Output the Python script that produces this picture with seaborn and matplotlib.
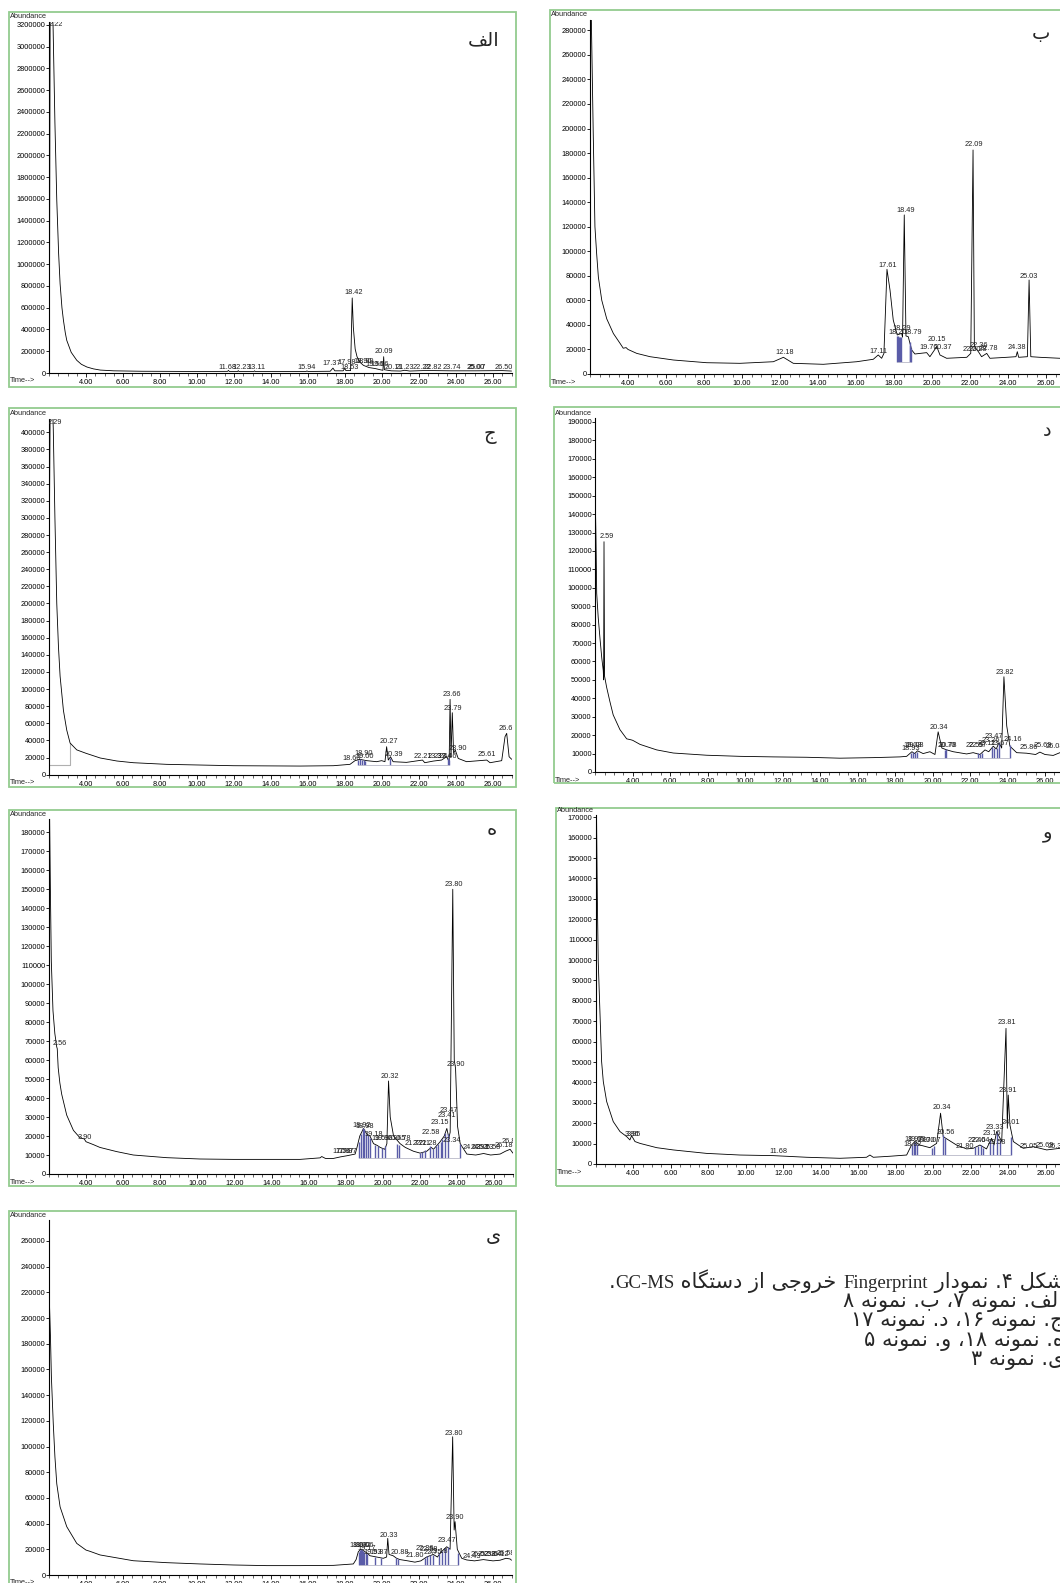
import re
import numpy as np
import pandas as pd
import matplotlib
matplotlib.use("Agg")
from matplotlib import pyplot as plt
from matplotlib.patches import Rectangle
from matplotlib.ticker import MultipleLocator
import seaborn as sns

# ---- chromatogram traces: (time [min], abundance) ----
alef_trace = [
    (2.02, 40000), (2.06, 3300000), (2.18, 3300000), (2.22, 3190000), (2.32, 2300000),
    (2.42, 1590000), (2.52, 1100000), (2.60, 820000), (2.70, 600000), (2.78, 485000),
    (2.88, 370000), (2.96, 300000), (3.2, 190000), (3.5, 117000), (3.75, 80000),
    (4.05, 55000), (4.4, 38000), (4.77, 27000), (5.5, 20000), (7.0, 16000),
    (10.0, 14000), (11.65, 15000), (11.7, 24000), (11.75, 14000), (12.2, 14000),
    (12.23, 22000), (12.27, 14000), (13.08, 14000), (13.11, 20000), (13.15, 14000),
    (15.9, 14000), (15.94, 19000), (16.0, 14000), (17.2, 16000), (17.35, 45000),
    (17.45, 20000), (17.9, 20000), (17.98, 42000), (18.05, 22000), (18.3, 22000),
    (18.39, 690000), (18.45, 420000), (18.55, 220000), (18.65, 150000), (18.8, 100000),
    (19.0, 70000), (19.3, 50000), (19.66, 40000), (19.9, 30000), (20.05, 25000),
    (20.09, 150000), (20.13, 30000), (20.5, 20000), (21.0, 18000), (21.23, 25000),
    (21.5, 18000), (22.22, 22000), (22.82, 22000), (23.74, 20000), (25.07, 20000),
    (26.5, 22000), (27.0, 18000),
]
be_trace = [
    (2.07, 290000), (2.17, 196000), (2.26, 120000), (2.35, 98000), (2.44, 79000),
    (2.62, 60000), (2.88, 45000), (3.23, 33000), (3.58, 25000), (3.75, 21000),
    (3.9, 21500), (4.0, 20000), (4.46, 16800), (5.16, 14100), (6.39, 11400),
    (8.14, 9200), (9.89, 8700), (11.65, 10000), (12.18, 13600), (12.7, 8700),
    (14.28, 7900), (16.04, 10000), (16.91, 12000), (17.17, 15500), (17.35, 12800),
    (17.47, 16800), (17.63, 85300), (17.79, 68400), (17.96, 44000), (18.17, 31800),
    (18.40, 33100), (18.45, 30000), (18.54, 129600), (18.63, 31000), (18.75, 30400),
    (18.93, 19600), (19.1, 16300), (19.72, 17400), (19.89, 14100), (20.25, 22300),
    (20.42, 15500), (20.77, 12800), (21.83, 13600), (22.04, 16800), (22.16, 182500),
    (22.23, 22300), (22.44, 18200), (22.61, 14100), (22.88, 16800), (23.05, 12800),
    (23.93, 13600), (24.42, 14100), (24.49, 18200), (24.56, 13600), (25.02, 14100),
    (25.11, 76600), (25.2, 14100), (25.68, 13600), (26.74, 12800), (27.1, 12800),
]
jim_trace = [
    (2.0, 12000), (2.02, 282000), (2.06, 425000), (2.2, 425000), (2.23, 405000),
    (2.32, 300000), (2.42, 200000), (2.51, 150000), (2.6, 115000), (2.78, 75000),
    (2.96, 52000), (3.14, 37000), (3.5, 29000), (4.0, 25000), (4.77, 19500),
    (5.67, 16000), (6.56, 14000), (8.36, 12100), (11.97, 10500), (15.57, 10100),
    (17.37, 10500), (18.27, 12100), (18.54, 16400), (18.81, 17900), (19.17, 16400),
    (19.71, 15200), (19.98, 16400), (20.16, 15200), (20.25, 32700), (20.34, 17100),
    (20.46, 21000), (20.6, 15200), (21.32, 14400), (22.19, 17100), (22.31, 14000),
    (22.77, 15900), (23.22, 17100), (23.49, 21000), (23.63, 15200), (23.68, 88000),
    (23.73, 21000), (23.8, 72400), (23.87, 25000), (23.96, 28800), (24.12, 19000),
    (24.57, 15200), (25.66, 17100), (25.84, 14000), (26.47, 16400), (26.65, 44400),
    (26.74, 48300), (26.87, 21000), (27.01, 18000),
]
dal_trace = [
    (1.97, 191000), (2.0, 150000), (2.04, 128000), (2.08, 97000), (2.16, 84000),
    (2.26, 72000), (2.35, 62000), (2.43, 55000), (2.45, 50000), (2.47, 125000),
    (2.50, 52000), (2.61, 46000), (2.79, 38000), (2.96, 31000), (3.32, 23000),
    (3.68, 18000), (3.9, 17500), (4.0, 17200), (4.39, 15000), (5.28, 12000),
    (6.17, 10300), (7.95, 9100), (9.73, 8500), (11.5, 8200), (13.28, 8000),
    (15.06, 7500), (16.84, 7800), (18.26, 8200), (18.62, 8500), (18.9, 11000),
    (19.05, 10000), (19.2, 11500), (19.5, 10000), (19.86, 11000), (20.13, 9500),
    (20.3, 21800), (20.5, 13000), (20.76, 12000), (21.11, 11000), (21.82, 9800),
    (22.17, 10500), (22.53, 9500), (22.8, 12000), (23.0, 11000), (23.24, 14000),
    (23.4, 12500), (23.55, 16000), (23.69, 13000), (23.81, 51700), (23.96, 25000),
    (24.13, 14000), (24.49, 10500), (25.02, 10200), (25.5, 9500), (25.73, 10800),
    (26.0, 9500), (26.44, 9000), (26.8, 10500), (27.0, 9500),
]
he_trace = [
    (2.04, 187000), (2.08, 150000), (2.13, 112000), (2.22, 86000), (2.32, 74000),
    (2.42, 67000), (2.45, 66000), (2.5, 56000), (2.59, 48000), (2.69, 42000),
    (2.96, 31000), (3.32, 23000), (3.68, 19000), (3.9, 18500), (4.0, 17000),
    (4.39, 15500), (4.75, 14000), (5.65, 11800), (6.55, 10000), (8.35, 8600),
    (10.14, 7900), (11.94, 7700), (13.73, 7700), (15.53, 7700), (16.61, 8500),
    (16.7, 9200), (16.9, 8200), (17.33, 8200), (17.7, 9000), (18.05, 9600),
    (18.5, 10500), (18.6, 14000), (18.75, 20000), (18.95, 24000), (19.13, 21000),
    (19.3, 20000), (19.49, 16000), (19.7, 15000), (19.85, 14000), (20.1, 13000),
    (20.21, 16000), (20.3, 49000), (20.39, 30000), (20.57, 20000), (20.92, 16000),
    (21.2, 14000), (21.64, 12000), (22.0, 11000), (22.36, 12000), (22.6, 14000),
    (22.72, 13000), (22.9, 15000), (23.08, 17000), (23.3, 20000), (23.44, 24000),
    (23.55, 19000), (23.62, 22000), (23.76, 150000), (23.84, 60000), (23.91, 55700),
    (24.02, 25000), (24.16, 16000), (24.52, 10500), (25.0, 10000), (25.42, 10800),
    (25.8, 10000), (26.31, 10500), (26.6, 12000), (26.85, 13000), (27.0, 11000),
]
vav_trace = [
    (2.04, 170000), (2.08, 131900), (2.13, 99200), (2.22, 74700), (2.31, 50200),
    (2.40, 40400), (2.58, 30600), (2.93, 20800), (3.29, 15900), (3.65, 13400),
    (3.82, 11800), (3.91, 13900), (4.09, 11000), (4.36, 10100), (5.25, 8000),
    (6.13, 6900), (7.91, 5200), (9.69, 4400), (11.47, 4100), (13.25, 3300),
    (15.02, 2800), (16.44, 3300), (16.62, 4400), (16.8, 3300), (17.69, 3800),
    (18.58, 4400), (18.84, 9300), (19.02, 11000), (19.29, 9300), (19.82, 8000),
    (20.18, 10100), (20.39, 24900), (20.53, 13400), (20.67, 12600), (21.24, 9300),
    (21.78, 7400), (22.13, 7700), (22.49, 9300), (22.84, 7400), (23.11, 12600),
    (23.24, 9300), (23.38, 15900), (23.65, 11000), (23.88, 66500), (23.95, 17500),
    (24.0, 33800), (24.09, 19100), (24.27, 11000), (24.8, 7700), (25.34, 8500),
    (26.05, 6900), (26.76, 7700), (27.1, 7200),
]
ye_trace = [
    (2.0, 276000), (2.03, 209000), (2.08, 185000), (2.13, 154000), (2.23, 118000),
    (2.32, 92000), (2.42, 71000), (2.6, 53000), (2.96, 37600), (3.5, 24600),
    (4.0, 19400), (4.2, 18500), (4.76, 15600), (6.56, 11100), (8.36, 9600),
    (10.16, 8600), (11.96, 7800), (13.77, 7300), (15.57, 7300), (17.37, 7500),
    (18.45, 8600), (18.6, 12000), (18.72, 18100), (18.85, 20000), (18.99, 19000),
    (19.2, 17000), (19.35, 15000), (19.71, 14000), (20.07, 13000), (20.25, 14000),
    (20.31, 28500), (20.38, 16000), (20.6, 15000), (20.79, 13000), (20.97, 12000),
    (21.4, 11000), (21.78, 10000), (22.1, 11000), (22.41, 14000), (22.77, 16000),
    (23.0, 14000), (23.14, 17000), (23.35, 20000), (23.5, 22000), (23.68, 20000),
    (23.82, 107600), (23.9, 35000), (23.95, 41500), (24.07, 20000), (24.31, 13000),
    (24.58, 11700), (25.0, 11000), (25.48, 12000), (26.0, 11000), (26.38, 11500),
    (26.7, 13000), (26.92, 12500), (27.0, 11500),
]

# ---- retention-time annotations: (time, abundance, text) ----
alef_labels = [
    (2.35, 3200000, "2.22"), (18.45, 737000, "18.42"), (20.11, 200000, "20.09"),
    (11.62, 49000, "11.68"), (12.40, 49000, "12.23"), (13.22, 49000, "13.11"),
    (15.93, 49000, "15.94"), (17.28, 86000, "17.37"), (18.08, 95000, "17.98"),
    (18.27, 55000, "18.53"), (18.95, 107000, "18.90"), (19.05, 107000, "18.99"),
    (19.62, 77000, "19.56"), (19.85, 77000, "19.66"), (20.62, 55000, "20.11"),
    (21.24, 55000, "21.23"), (22.15, 55000, "22.22"), (22.77, 55000, "22.82"),
    (23.77, 55000, "23.74"), (25.08, 55000, "25.00"), (25.14, 55000, "25.07"),
    (26.56, 55000, "26.50"),
]
be_labels = [
    (12.26, 17900, "12.18"), (17.17, 18200, "17.11"), (17.67, 88300, "17.61"),
    (18.61, 133100, "18.49"), (18.17, 33700, "18.20"), (18.40, 37200, "18.29"),
    (19.0, 33700, "18.79"), (19.80, 21700, "19.76"), (20.25, 27700, "20.15"),
    (20.57, 21200, "20.37"), (22.21, 186600, "22.09"), (22.09, 20100, "22.00"),
    (22.39, 20100, "22.28"), (22.44, 23600, "22.36"), (22.97, 20900, "22.78"),
    (24.49, 21500, "24.38"), (25.12, 79300, "25.03"),
]
jim_labels = [
    (2.30, 411700, "2.29"), (18.36, 19100, "18.60"), (18.99, 24900, "18.90"),
    (19.08, 21000, "19.00"), (20.35, 38600, "20.27"), (20.62, 24100, "20.39"),
    (22.23, 21000, "22.21"), (22.95, 21000, "23.37"), (23.31, 21000, "23.44"),
    (23.58, 21000, "23.46"), (23.76, 93500, "23.66"), (23.85, 77500, "23.79"),
    (24.12, 30800, "23.90"), (25.69, 24100, "25.61"), (26.70, 54100, "26.6"),
]
dal_labels = [
    (2.61, 127800, "2.59"), (18.85, 12700, "18.93"), (18.94, 14500, "19.03"),
    (19.07, 14500, "19.08"), (20.36, 24100, "20.34"), (20.74, 14500, "20.70"),
    (20.82, 14500, "20.78"), (22.25, 14500, "22.55"), (22.40, 14500, "22.57"),
    (22.89, 15400, "23.11"), (23.10, 17200, "23.26"), (23.28, 19000, "23.47"),
    (23.60, 15400, "23.67"), (23.87, 54000, "23.82"), (24.27, 17600, "24.16"),
    (25.16, 13200, "25.86"), (25.91, 14500, "25.69"), (26.53, 13600, "26.08"),
]
he_labels = [
    (2.59, 68800, "2.56"), (3.95, 19300, "3.90"), (17.75, 11800, "17.56"),
    (17.96, 11800, "17.87"), (18.10, 11800, "17.97"), (18.86, 25300, "18.92"),
    (19.02, 24900, "18.98"), (19.49, 20900, "19.18"), (19.85, 18800, "19.59"),
    (20.05, 18800, "19.96"), (20.35, 51600, "20.32"), (20.75, 18800, "20.65"),
    (21.00, 18800, "20.78"), (21.64, 16200, "21.77"), (22.10, 16200, "22.11"),
    (22.40, 16200, "22.28"), (22.60, 21800, "22.58"), (23.06, 27200, "23.15"),
    (23.44, 30600, "23.41"), (23.53, 33700, "23.47"), (23.71, 17600, "23.34"),
    (23.84, 152400, "23.80"), (23.95, 57800, "23.90"), (24.80, 14000, "24.63"),
    (25.20, 14000, "24.93"), (25.50, 14000, "25.23"), (25.85, 14000, "25.58"),
    (26.50, 15000, "26.18"), (26.76, 17000, "26.8"),
]
vav_labels = [
    (3.95, 14500, "3.86"), (4.02, 14500, "3.95"), (11.73, 6000, "11.68"),
    (18.88, 9500, "18.82"), (18.97, 12100, "18.97"), (19.09, 12100, "19.09"),
    (19.60, 11400, "19.70"), (19.91, 11400, "20.07"), (20.44, 27600, "20.34"),
    (20.67, 15500, "20.56"), (21.69, 8800, "21.80"), (22.31, 11400, "22.40"),
    (22.55, 11400, "22.64"), (23.11, 15000, "23.16"), (23.29, 18100, "23.33"),
    (23.38, 10600, "23.58"), (23.92, 69300, "23.81"), (24.00, 36100, "23.91"),
    (24.13, 20400, "24.01"), (25.07, 8800, "25.05"), (25.96, 9300, "25.69"),
    (26.58, 8500, "26.38"),
]
ye_labels = [
    (18.72, 23300, "18.68"), (18.90, 23300, "18.92"), (19.06, 23300, "19.06"),
    (19.17, 20700, "19.17"), (19.50, 17600, "19.53"), (19.80, 17600, "19.87"),
    (20.38, 31100, "20.33"), (20.97, 17600, "20.88"), (21.78, 15000, "21.80"),
    (22.30, 20700, "22.36"), (22.55, 19500, "22.58"), (22.75, 17600, "22.75"),
    (23.10, 18500, "23.18"), (23.50, 26700, "23.47"), (23.86, 110200, "23.80"),
    (23.95, 44800, "23.90"), (24.85, 14300, "24.43"), (25.30, 16000, "25.02"),
    (25.65, 16000, "25.38"), (26.00, 16000, "25.64"), (26.35, 16000, "26.12"),
    (26.70, 17000, "26.58"),
]

# ---- integration marks: (time, top abundance); base per panel ----
be_marks = [(18.15, 31000), (18.2, 31000), (18.25, 30500), (18.3, 30500), (18.35, 30000),
            (18.82, 26000), (18.86, 24000), (18.9, 21000)]
jim_marks = [(18.7, 17000), (18.8, 18000), (18.9, 17500), (19.0, 17000), (19.1, 16000),
             (20.42, 19000), (23.55, 19000), (23.6, 17000)]
dal_marks = [(18.85, 10500), (18.95, 11000), (19.05, 10500), (19.15, 11000), (20.65, 12000),
             (20.72, 12500), (22.45, 10500), (22.55, 10000), (22.65, 10500), (23.2, 13500),
             (23.3, 13000), (23.45, 13000), (23.55, 15500), (24.15, 14500)]
he_marks = [(18.7, 17000), (18.8, 21000), (18.9, 24000), (19.0, 23500), (19.1, 21000),
            (19.2, 20500), (19.3, 19000), (19.55, 15500), (19.75, 14500), (19.95, 13500),
            (20.1, 14500), (20.75, 16000), (20.85, 15500), (22.0, 11000), (22.1, 11500),
            (22.25, 12500), (22.55, 14500), (22.7, 13000), (22.85, 14500), (22.95, 16000),
            (23.1, 17000), (23.2, 18500), (23.35, 21500), (23.5, 21000), (24.15, 16000)]
vav_marks = [(18.85, 9300), (18.95, 10500), (19.05, 11000), (19.15, 10000), (19.95, 8000),
             (20.05, 9000), (20.5, 14000), (20.65, 12600), (22.2, 8500), (22.4, 9000),
             (22.55, 9300), (22.65, 8000), (23.05, 12000), (23.2, 10000), (23.4, 15500),
             (23.55, 12000), (24.15, 13000)]
ye_marks = [(18.75, 18100), (18.8, 19500), (18.85, 20000), (18.9, 19500), (18.95, 19000),
            (19.05, 18000), (19.12, 17000), (19.2, 16500), (19.6, 14000), (19.95, 13000),
            (20.75, 13000), (20.85, 12500), (22.35, 13500), (22.45, 14500), (22.6, 15500),
            (22.75, 15500), (23.1, 17000), (23.25, 19000), (23.4, 21000), (23.55, 22000),
            (24.1, 17000)]
# light grey integration box under the solvent peak of panel ج
jim_box = [(2.0, 11700), (3.14, 11700), (3.14, 37000)]

panel_letters = ["الف", "ب", "ج", "د", "ه", "و", "ی"]
caption_lines = [
    "شکل ۴. نمودار Fingerprint خروجی از دستگاه GC-MS.",
    "الف. نمونه ۷، ب. نمونه ۸",
    "ج. نمونه ۱۶، د. نمونه ۱۷",
    "ه. نمونه ۱۸، و. نمونه ۵",
    "ی. نمونه ۳",
]

# ---- minimal Persian shaping + right-to-left ordering for matplotlib ----
FORMS = {  # isolated, final, initial, medial
    "ا": ("\uFE8D", "\uFE8E", None, None), "ب": ("\uFE8F", "\uFE90", "\uFE91", "\uFE92"),
    "ت": ("\uFE95", "\uFE96", "\uFE97", "\uFE98"), "ج": ("\uFE9D", "\uFE9E", "\uFE9F", "\uFEA0"),
    "خ": ("\uFEA5", "\uFEA6", "\uFEA7", "\uFEA8"), "د": ("\uFEA9", "\uFEAA", None, None),
    "ر": ("\uFEAD", "\uFEAE", None, None), "ز": ("\uFEAF", "\uFEB0", None, None),
    "س": ("\uFEB1", "\uFEB2", "\uFEB3", "\uFEB4"), "ش": ("\uFEB5", "\uFEB6", "\uFEB7", "\uFEB8"),
    "ف": ("\uFED1", "\uFED2", "\uFED3", "\uFED4"), "ل": ("\uFEDD", "\uFEDE", "\uFEDF", "\uFEE0"),
    "م": ("\uFEE1", "\uFEE2", "\uFEE3", "\uFEE4"), "ن": ("\uFEE5", "\uFEE6", "\uFEE7", "\uFEE8"),
    "ه": ("\uFEE9", "\uFEEA", "\uFEEB", "\uFEEC"), "و": ("\uFEED", "\uFEEE", None, None),
    "ک": ("\uFB8E", "\uFB8F", "\uFB90", "\uFB91"), "گ": ("\uFB92", "\uFB93", "\uFB94", "\uFB95"),
    "ی": ("\uFBFC", "\uFBFD", "\uFBFE", "\uFBFF"),
}


def shape(word):
    out = []
    for i, ch in enumerate(word):
        if ch not in FORMS:
            out.append(ch)
            continue
        prev = word[i - 1] if i > 0 else ""
        nxt = word[i + 1] if i + 1 < len(word) else ""
        j_prev = prev in FORMS and FORMS[prev][2] is not None
        j_next = nxt in FORMS and FORMS[ch][2] is not None
        iso, fin, ini, med = FORMS[ch]
        out.append(med if (j_prev and j_next) else fin if j_prev else ini if j_next else iso)
    return "".join(out)


def rtl(text):
    toks = re.findall(r"[A-Za-z\-]+|[\u06F0-\u06F9]+|[\u0621-\u06EF]+|.", text)
    return "".join(shape(t)[::-1] if t[0] in FORMS else t for t in reversed(toks))


# ---- layout (pixel boxes: left, top, right, bottom) ----
W, H = 1060, 1583
panels = [
    dict(trace=alef_trace, labels=alef_labels, marks=[], base=0, ymax=3230000, ystep=200000,
         ax=(49, 21.7, 511.5, 373), frame=(9, 12, 516, 387), letter=(484, 40)),
    dict(trace=be_trace, labels=be_labels, marks=be_marks, base=10000, ymax=288400, ystep=20000,
         ax=(590, 20, 1065, 374), frame=(550, 10, 1080, 387), letter=(1041, 33)),
    dict(trace=jim_trace, labels=jim_labels, marks=jim_marks, base=11000, ymax=416000, ystep=20000,
         ax=(49, 418.6, 511.5, 774.7), frame=(9, 408, 516, 787), letter=(490, 434),
         box=jim_box),
    dict(trace=dal_trace, labels=dal_labels, marks=dal_marks, base=7500, ymax=192000, ystep=10000,
         ax=(595.2, 418.3, 1063.7, 772), frame=(554, 407, 1080, 783), letter=(1047, 430)),
    dict(trace=he_trace, labels=he_labels, marks=he_marks, base=8600, ymax=187000, ystep=10000,
         ax=(48.9, 819, 512.9, 1174), frame=(9, 810, 516, 1186), letter=(492, 830)),
    dict(trace=vav_trace, labels=vav_labels, marks=vav_marks, base=4400, ymax=171000, ystep=10000,
         ax=(595.8, 815.2, 1064.5, 1164), frame=(556, 808, 1080, 1186), letter=(1048, 832)),
    dict(trace=ye_trace, labels=ye_labels, marks=ye_marks, base=7800, ymax=276000, ystep=20000,
         ax=(49, 1220.4, 511.5, 1575), frame=(9, 1211, 516, 1620), letter=(493, 1235)),
]

sns.set_theme(style="white")
plt.rcParams["font.family"] = ["Liberation Sans", "DejaVu Sans"]

fig = plt.figure(figsize=(W / 100, H / 100), dpi=100)


def fx(x):
    return x / W


def fy(y):
    return 1 - y / H


for p, letter in zip(panels, panel_letters):
    l, t, r, b = p["ax"]
    ax = fig.add_axes([fx(l), fy(b), (r - l) / W, (b - t) / H])
    ax.set_facecolor("none")
    if "box" in p:
        bx = pd.DataFrame(p["box"], columns=["time", "abundance"])
        ax.plot(bx["time"], bx["abundance"], color="#b0b0b0", linewidth=0.8)
    df = pd.DataFrame(p["trace"], columns=["time", "abundance"])
    sns.lineplot(data=df, x="time", y="abundance", ax=ax, color="black",
                 linewidth=0.6, sort=False, estimator=None)
    if p["marks"]:
        mk = pd.DataFrame(p["marks"], columns=["time", "top"])
        ax.vlines(mk["time"], p["base"], mk["top"], color="#5a5ca8", linewidth=1.0)
        ax.hlines(p["base"], mk["time"].min(), mk["time"].max(), color="#b8b8c8", linewidth=0.6)
    for lt, la, ls in p["labels"]:
        ax.text(lt, la, ls, ha="center", va="center", fontsize=5.3, color="#222222", clip_on=True)

    ax.set_xlim(2.0, 27.0)
    ax.set_ylim(0, p["ymax"])
    xt = np.arange(4, 27, 2)
    ax.set_xticks(xt)
    ax.set_xticklabels([f"{v:.2f}" for v in xt])
    ax.xaxis.set_minor_locator(MultipleLocator(0.5))
    yt = np.arange(0, p["ymax"] + 1, p["ystep"])
    ax.set_yticks(yt)
    ax.set_yticklabels([str(int(v)) for v in yt])
    ax.set_xlabel("")
    ax.set_ylabel("")
    ax.spines[["top", "right"]].set_visible(False)
    for s in ["left", "bottom"]:
        ax.spines[s].set_color("black")
        ax.spines[s].set_linewidth(0.8)
    ax.tick_params(axis="x", which="major", direction="out", length=3, width=0.6,
                   pad=1.5, labelsize=5.3, bottom=True, colors="black")
    ax.tick_params(axis="x", which="minor", direction="out", length=2, width=0.5, bottom=True)
    ax.tick_params(axis="y", direction="out", length=2, width=0.6, pad=0.5,
                   labelsize=5.3, left=True, colors="black")

    fl, ft, fr, fb = p["frame"]
    fig.patches.append(Rectangle((fx(fl), fy(fb)), (fr - fl) / W, (fb - ft) / H,
                                 transform=fig.transFigure, fill=False,
                                 edgecolor="#93cc8f", linewidth=1.3))
    fig.text(fx(fl + 1), fy(t - 5), "Abundance", fontsize=5.3, ha="left", va="center")
    fig.text(fx(fl + 1), fy(b + 8), "Time-->", fontsize=5.3, ha="left", va="center")
    lx, ly = p["letter"]
    fig.text(fx(lx), fy(ly), rtl(letter), fontsize=14, ha="center", va="center",
             family=["DejaVu Sans"])

# caption: Persian runs set larger than the Latin words, laid out right to left
renderer = fig.canvas.get_renderer()
for i, line in enumerate(caption_lines):
    x = 1064
    y = 1288 + 19.2 * i
    for part in reversed(re.split(r"([A-Za-z][A-Za-z\-]*)", rtl(line))):
        if not part:
            continue
        latin = re.match(r"[A-Za-z]", part) is not None
        txt = fig.text(fx(x), fy(y), part, ha="right", va="baseline",
                       fontsize=13.5 if latin else 15,
                       family=["Liberation Serif"] if latin else ["DejaVu Sans"])
        x -= txt.get_window_extent(renderer).width

fig.savefig("out.png", dpi=100)
